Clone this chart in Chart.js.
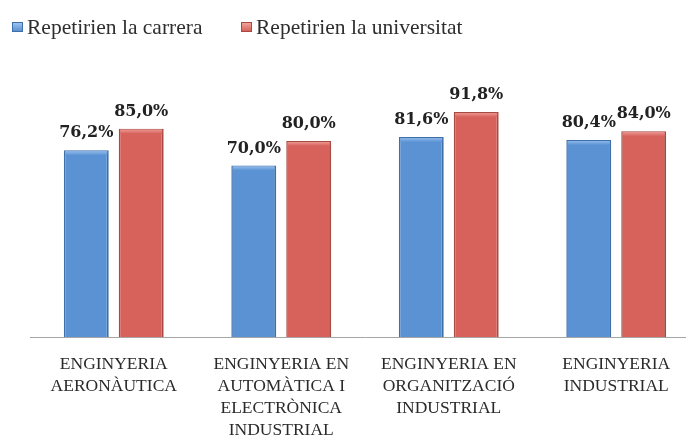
<!DOCTYPE html>
<html>
<head>
<meta charset="utf-8">
<script src="https://cdn.jsdelivr.net/npm/chart.js@4"></script>
<style>
  html, body { margin: 0; padding: 0; background: #fff; overflow: hidden; }
  #wrap { position: relative; width: 686px; height: 441px; overflow: hidden; }
  #graph { position: absolute; left: 0; top: 0; }
  #legend { position: absolute; left: 0; top: 0; height: 50px; width: 686px;
            font-family: "Liberation Serif", serif; font-size: 21.5px; color: #2e2e2e; }
  #legend .item { position: absolute; top: 14px; white-space: nowrap; line-height: 26px; }
  #legend .box { position: absolute; top: 8px; left: 0; width: 9px; height: 8px; }
  #legend .txt { position: absolute; left: 15px; top: 0; }
</style>
</head>
<body>
<div id="wrap">
  <canvas id="graph" width="700" height="458" style="width:700px;height:458px"></canvas>
  <div id="legend"></div>
</div>
<script>
const categories = [
  ['ENGINYERIA', 'AERONÀUTICA'],
  ['ENGINYERIA EN', 'AUTOMÀTICA I', 'ELECTRÒNICA', 'INDUSTRIAL'],
  ['ENGINYERIA EN', 'ORGANITZACIÓ', 'INDUSTRIAL'],
  ['ENGINYERIA', 'INDUSTRIAL']
];
const seriesNames = ['Repetirien la carrera', 'Repetirien la universitat'];
const carrera = [76.2, 70.0, 81.6, 80.4];
const universitat = [85.0, 80.0, 91.8, 84.0];

const fills = ['#5a92d4', '#d7625c'];
const edges = ['#3f6fa8', '#a84a44'];
const tops = ['#9cc2ee', '#f0a29c'];
const legendX = [12, 241];

const fmt = v => v.toFixed(1).replace('.', ',') + '%';

// data labels above each bar
const valueLabels = {
  id: 'valueLabels',
  afterDatasetsDraw(chart) {
    const ctx = chart.ctx;
    ctx.save();
    ctx.font = 'bold 16px "DejaVu Serif", serif';
    ctx.fillStyle = '#222';
    ctx.textAlign = 'center';
    ctx.textBaseline = 'alphabetic';
    chart.data.datasets.forEach((ds, i) => {
      chart.getDatasetMeta(i).data.forEach((bar, j) => {
        ctx.fillText(fmt(ds.data[j]), bar.x, bar.y - 13);
      });
    });
    ctx.restore();
  }
};

// light bevel on the top of each bar
const bevel = {
  id: 'bevel',
  afterDatasetsDraw(chart) {
    const ctx = chart.ctx;
    ctx.save();
    chart.data.datasets.forEach((ds, i) => {
      chart.getDatasetMeta(i).data.forEach(bar => {
        const l = bar.x - bar.width / 2 + 1.5, r = bar.x + bar.width / 2 - 1.5;
        const g = ctx.createLinearGradient(0, bar.y, 0, bar.y + 5);
        g.addColorStop(0, tops[i]);
        g.addColorStop(1, fills[i]);
        ctx.fillStyle = g;
        ctx.fillRect(l, bar.y + 1, r - l, 4);
      });
    });
    ctx.restore();
  }
};

// html legend built from the datasets
const htmlLegend = {
  id: 'htmlLegend',
  afterUpdate(chart) {
    const el = document.getElementById('legend');
    el.innerHTML = '';
    chart.data.datasets.forEach((ds, i) => {
      const item = document.createElement('div');
      item.className = 'item';
      item.style.left = legendX[i] + 'px';
      const box = document.createElement('span');
      box.className = 'box';
      box.style.background = 'linear-gradient(' + tops[i] + ',' + fills[i] + ')';
      box.style.border = '0.5px solid ' + edges[i];
      const txt = document.createElement('span');
      txt.className = 'txt';
      txt.textContent = ds.label;
      item.appendChild(box);
      item.appendChild(txt);
      el.appendChild(item);
    });
  }
};

const data = {
  labels: categories,
  datasets: [
    { label: seriesNames[0], data: carrera, backgroundColor: fills[0], borderColor: edges[0] },
    { label: seriesNames[1], data: universitat, backgroundColor: fills[1], borderColor: edges[1] }
  ]
};

const config = {
  type: 'bar',
  data: data,
  options: {
    responsive: false,
    animation: false,
    events: [],
    layout: { padding: { left: 30, right: 0, top: 92, bottom: 0 } },
    datasets: {
      bar: {
        categoryPercentage: 0.656,
        barPercentage: 0.818,
        borderWidth: { left: 1.5, right: 2, top: 1, bottom: 0 },
        borderSkipped: false
      }
    },
    plugins: {
      legend: { display: false },
      tooltip: { enabled: false }
    },
    scales: {
      x: {
        grid: { display: false, drawTicks: false },
        border: { display: true, color: '#a6a6a6', width: 1 },
        ticks: {
          color: '#2a2a2a',
          padding: 16,
          maxRotation: 0,
          autoSkip: false,
          font: { family: '"Liberation Serif", serif', size: 17.5, lineHeight: 1.27 }
        }
      },
      y: {
        display: false,
        min: 0,
        max: 100
      }
    }
  },
  plugins: [valueLabels, bevel, htmlLegend]
};

const graph = document.querySelector('#graph');
new Chart(graph, config);
</script>
</body>
</html>
